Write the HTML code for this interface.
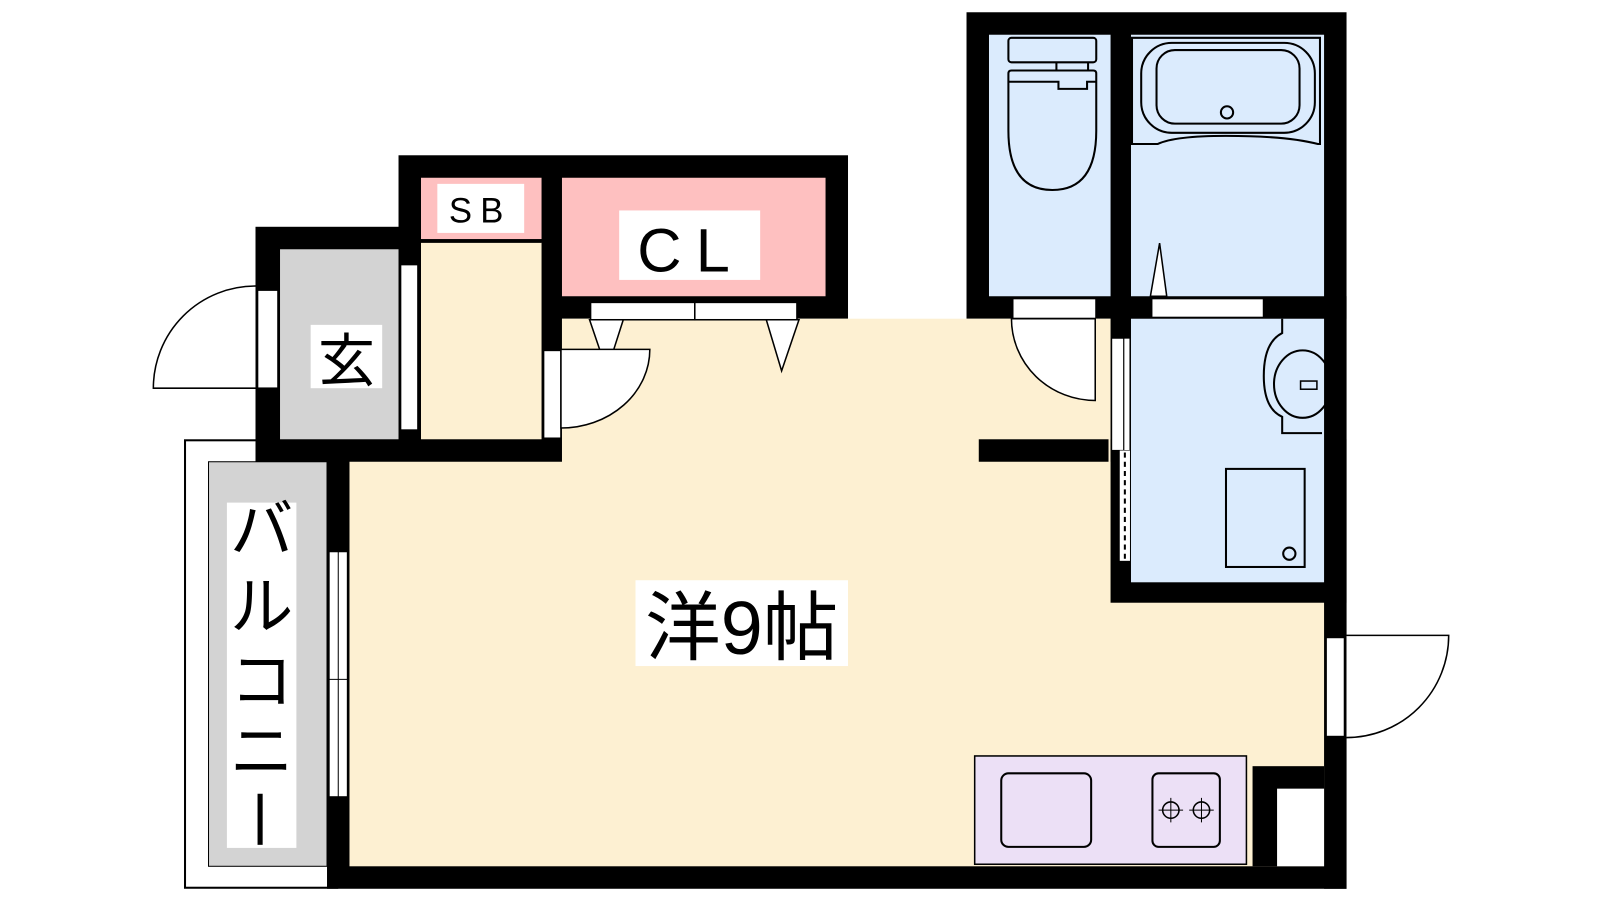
<!DOCTYPE html>
<html><head><meta charset="utf-8"><style>
html,body{margin:0;padding:0;background:#fff}
svg{display:block}
text{font-family:"Liberation Sans","Noto Sans CJK JP",sans-serif;fill:#000}
</style></head><body>
<svg width="1600" height="900" viewBox="0 0 1566 881" xmlns="http://www.w3.org/2000/svg">
<!-- balcony -->
<rect x="181" y="431" width="149" height="438" fill="#fff" stroke="#000" stroke-width="2"/>
<rect x="204" y="452" width="116" height="396" fill="#d3d3d3" stroke="#000" stroke-width="1"/>
<rect x="222" y="492" width="68" height="338" fill="#fff"/>
<text x="256" y="540" font-size="62" text-anchor="middle">バ</text>
<text x="256" y="615" font-size="62" text-anchor="middle">ル</text>
<text x="256" y="688" font-size="62" text-anchor="middle">コ</text>
<text x="256" y="757" font-size="62" text-anchor="middle">ニ</text>
<rect x="252" y="777" width="5" height="50" fill="#000"/>
<!-- black walls base -->
<rect x="250" y="222" width="300" height="230" fill="#000"/>
<rect x="390" y="152" width="440" height="160" fill="#000"/>
<rect x="946" y="12" width="372" height="300" fill="#000"/>
<rect x="320" y="430" width="998" height="440" fill="#000"/>
<rect x="1296" y="290" width="22" height="580" fill="#000"/>
<!-- main room -->
<rect x="342" y="452" width="954" height="396" fill="#fdf0d2"/>
<rect x="550" y="312" width="537" height="141" fill="#fdf0d2"/>
<rect x="958" y="430" width="127" height="22" fill="#000"/>
<!-- washroom block walls -->
<rect x="1087" y="290" width="231" height="300" fill="#000"/>
<!-- genkan -->
<rect x="274" y="244" width="116" height="186" fill="#d3d3d3"/>
<rect x="304" y="318" width="70" height="62" fill="#fff"/>
<text x="339" y="373" font-size="56" text-anchor="middle">玄</text>
<rect x="392" y="259" width="17" height="162" fill="#fff" stroke="#000" stroke-width="1.5"/>
<!-- SB / hall -->
<rect x="412" y="174" width="118" height="60" fill="#fec0c0"/>
<rect x="412" y="237" width="118" height="193" fill="#fdf0d2"/>
<line x1="412" y1="237" x2="530" y2="237" stroke="#000" stroke-width="1.5"/>
<rect x="428" y="180" width="85" height="48" fill="#fff"/>
<text x="470" y="218" font-size="34" text-anchor="middle" letter-spacing="8">SB</text>
<!-- CL -->
<rect x="550" y="174" width="258" height="116" fill="#fec0c0"/>
<rect x="606" y="206" width="138" height="68" fill="#fff"/>
<text x="676" y="266" font-size="60" text-anchor="middle" letter-spacing="14">CL</text>
<rect x="578" y="296" width="102" height="17" fill="#fff" stroke="#000" stroke-width="1.5"/>
<rect x="680" y="296" width="100" height="17" fill="#fff" stroke="#000" stroke-width="1.5"/>
<polygon points="577,313 610,313 594,363" fill="#fff" stroke="#000" stroke-width="1.5"/>
<polygon points="750,313 782,313 765,363" fill="#fff" stroke="#000" stroke-width="1.5"/>
<!-- hall door into room -->
<rect x="532" y="343" width="17" height="86" fill="#fff" stroke="#000" stroke-width="1.5"/>
<path d="M549,419 L549,342 L636,342 A87,77 0 0 1 549,419 Z" fill="#fff" stroke="#000" stroke-width="1.5"/>
<!-- entry door -->
<rect x="252" y="284" width="20" height="96" fill="#fff" stroke="#000" stroke-width="1.5"/>
<path d="M250,280 A100,100 0 0 0 150,380 L250,380" fill="#fff" stroke="#000" stroke-width="1.5"/>
<!-- toilet -->
<rect x="968" y="34" width="119" height="256" fill="#dbebfd"/>
<rect x="987" y="37" width="86" height="24" rx="3" fill="none" stroke="#000" stroke-width="2"/>
<path d="M1034,61 v8 M1065,61 v8" stroke="#000" stroke-width="2"/>
<path d="M987,72 Q987,69 990,69 H1070 Q1073,69 1073,72 V128 Q1073,186 1030,186 Q987,186 987,128 Z" fill="none" stroke="#000" stroke-width="2"/>
<path d="M987,80 H1036 V87 H1064 V80 H1073" fill="none" stroke="#000" stroke-width="2"/>
<!-- bath -->
<rect x="1107" y="34" width="189" height="256" fill="#dbebfd"/>
<path d="M1108,37 H1292 V141 L1290,141 Q1260,133 1200,133 Q1150,133 1133,141 H1108 Z" fill="none" stroke="#000" stroke-width="2"/>
<rect x="1117" y="42" width="170" height="88" rx="30" fill="none" stroke="#000" stroke-width="2"/>
<rect x="1132" y="49" width="140" height="72" rx="18" fill="none" stroke="#000" stroke-width="2"/>
<circle cx="1201" cy="110" r="6" fill="none" stroke="#000" stroke-width="2"/>
<polygon points="1126,290 1142,290 1135,238" fill="#fff" stroke="#000" stroke-width="1.5"/>
<rect x="1128" y="293" width="108" height="17" fill="#fff"/>
<!-- toilet door -->
<rect x="992" y="293" width="80" height="18" fill="#fff"/>
<path d="M1072,312 L1072,392 A82,80 0 0 1 990,312 Z" fill="#fff" stroke="#000" stroke-width="1.5"/>
<!-- washroom -->
<rect x="1107" y="312" width="189" height="258" fill="#dbebfd"/>
<path d="M1255,312 V326 Q1237,335 1237,368 Q1237,400 1255,408 V424 H1294" fill="none" stroke="#000" stroke-width="2"/>
<ellipse cx="1275" cy="376" rx="28" ry="33" fill="none" stroke="#000" stroke-width="2"/>
<rect x="1273" y="373" width="16" height="8" fill="#dbebfd" stroke="#000" stroke-width="1.5"/>
<rect x="1200" y="459" width="77" height="96" fill="none" stroke="#000" stroke-width="2"/>
<circle cx="1262" cy="542" r="6" fill="none" stroke="#000" stroke-width="2"/>
<rect x="1088" y="331" width="12" height="110" fill="#fff" stroke="#000" stroke-width="1.2"/>
<rect x="1100" y="331" width="6" height="110" fill="#fff" stroke="#000" stroke-width="1"/>
<rect x="1096" y="441" width="10" height="108" fill="#fff"/>
<line x1="1101" y1="443" x2="1101" y2="549" stroke="#000" stroke-width="2" stroke-dasharray="5,4"/>
<!-- right door -->
<rect x="1298" y="624" width="18" height="97" fill="#fff" stroke="#000" stroke-width="1.5"/>
<path d="M1318,622 H1418 A100,100 0 0 1 1318,722" fill="#fff" stroke="#000" stroke-width="1.5"/>
<!-- niche -->
<rect x="1226" y="750" width="70" height="98" fill="#000"/>
<rect x="1250" y="772" width="46" height="76" fill="#fff"/>
<!-- kitchen -->
<rect x="954" y="740" width="266" height="106" fill="#ece0f6" stroke="#000" stroke-width="1.5"/>
<rect x="980" y="757" width="88" height="72" rx="7" fill="none" stroke="#000" stroke-width="2"/>
<rect x="1128" y="757" width="66" height="72" rx="6" fill="none" stroke="#000" stroke-width="2"/>
<circle cx="1146" cy="793" r="8" fill="none" stroke="#000" stroke-width="1.5"/>
<circle cx="1176" cy="793" r="8" fill="none" stroke="#000" stroke-width="1.5"/>
<path d="M1134,793h24M1146,781v24M1164,793h24M1176,781v24" stroke="#000" stroke-width="1"/>
<!-- balcony window -->
<rect x="322" y="540" width="18" height="240" fill="#fff" stroke="#000" stroke-width="1.2"/>
<line x1="331" y1="540" x2="331" y2="780" stroke="#000" stroke-width="1"/>
<line x1="322" y1="665" x2="340" y2="665" stroke="#000" stroke-width="1"/>
<!-- main label -->
<rect x="622" y="568" width="208" height="84" fill="#fff"/>
<text x="726" y="640" font-size="74" text-anchor="middle">洋9帖</text>
</svg>
</body></html>
